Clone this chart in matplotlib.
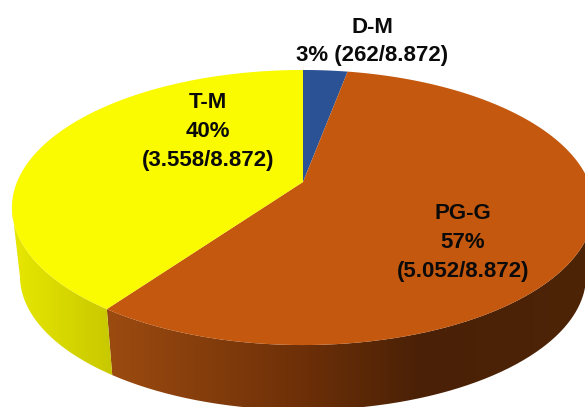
import numpy as np
import matplotlib
matplotlib.use("Agg")
import matplotlib.pyplot as plt
from matplotlib.path import Path
from matplotlib.patches import PathPatch
from matplotlib.transforms import Transform

categories = ["D-M", "PG-G", "T-M"]
values = [262, 5052, 3558]
label_text = ["D-M\n3% (262/8.872)", "PG-G\n57%\n(5.052/8.872)", "T-M\n40%\n(3.558/8.872)"]
colors = ["#2C5296", "#C4580E", "#FAFA00"]

# perspective of the tilted disc, in pixels of the picture
APEX = (303.0, 182.0)
K, A, B = 0.1855, 286.0, 132.8
LOW_SX, LOW_SY, LOW_CY = 0.9725, 0.9745, 251.2


def project(u, v, sx=1.0, sy=1.0, x0=APEX[0], y0=APEX[1]):
    w = 1 + K * v
    return x0 + sx * A * u / w, y0 - sy * B * v / w


class DiscTransform(Transform):
    input_dims = output_dims = 2
    has_inverse = False
    is_affine = False

    def transform_non_affine(self, values):
        values = np.asarray(values, float)
        x, y = project(values[:, 0], values[:, 1])
        return np.column_stack([x, y])

    def transform_path_non_affine(self, path):
        pts = []
        for curve, code in path.iter_bezier():
            if code == Path.CURVE4 or code == Path.CURVE3:
                pts.append(curve(np.linspace(0, 1, 60)[1:]))
            else:
                pts.append(curve(np.array([1.0])))
        return Path(self.transform_non_affine(np.vstack(pts)), closed=True)


wall_stops = {
    "T-M": [(10, "#E8E800"), (112, "#C8C800")],
    "PG-G": [(108, "#9C4B10"), (300, "#6E3008"), (420, "#4A2106"), (590, "#4E2407")],
}

fig = plt.figure(figsize=(5.85, 4.07), dpi=100)
ax = fig.add_axes([0, 0, 1, 1])
wedges, _ = ax.pie(values, colors=colors, startangle=90, counterclock=False, radius=1)

disc = DiscTransform()
for wedge in wedges:
    wedge.set_transform(disc + ax.transData)
    wedge.set_zorder(3)
    wedge.set_linewidth(0)
    wedge.set_edgecolor("none")

# side wall of the disc: a horizontal gradient clipped to the band between the rims,
# from one silhouette point of the rim (where its x is extreme) to the other
edges = np.cumsum([0] + values) / sum(values) * 2 * np.pi
side = np.arccos(-K)
limits = {"T-M": (0, 2 * np.pi - side), "PG-G": (side, 2 * np.pi)}
for name, t0, t1 in zip(categories, edges[:-1], edges[1:]):
    if name not in wall_stops:
        continue
    lo, hi = limits[name]
    th = np.linspace(max(t0, lo), min(t1, hi), 300)
    u, v = np.sin(th), np.cos(th)
    xt, yt = project(u, v)
    xb, yb = project(u, v, LOW_SX, LOW_SY, APEX[0], LOW_CY)
    poly = np.column_stack([np.r_[xt, xb[::-1]], np.r_[yt, yb[::-1]]])
    xs, cs = zip(*wall_stops[name])
    rgb = np.array([matplotlib.colors.to_rgb(c) for c in cs])
    grid = np.arange(0, 600)
    img = np.stack([np.interp(grid, xs, rgb[:, i]) for i in range(3)], axis=1)[None, :, :]
    patch = PathPatch(Path(poly, closed=False), transform=ax.transData, facecolor="none",
                      edgecolor="none")
    ax.add_patch(patch)
    im = ax.imshow(img, extent=(0, 600, 420, 0), aspect="auto", zorder=2,
                   interpolation="bilinear")
    im.set_clip_path(patch)

ax.set_aspect("auto")
ax.set_xlim(0, 585)
ax.set_ylim(407, 0)
ax.axis("off")

font = dict(family="Liberation Sans", fontweight="bold", fontsize=16, color="#0A0A0A",
            ha="center", va="center", multialignment="center", zorder=5)
ax.text(372, 41.5, label_text[0], linespacing=1.43, **font)
ax.text(463, 242.5, label_text[1], linespacing=1.5, **font)
ax.text(208, 131.5, label_text[2], linespacing=1.5, **font)

fig.savefig("out.png", dpi=100)
